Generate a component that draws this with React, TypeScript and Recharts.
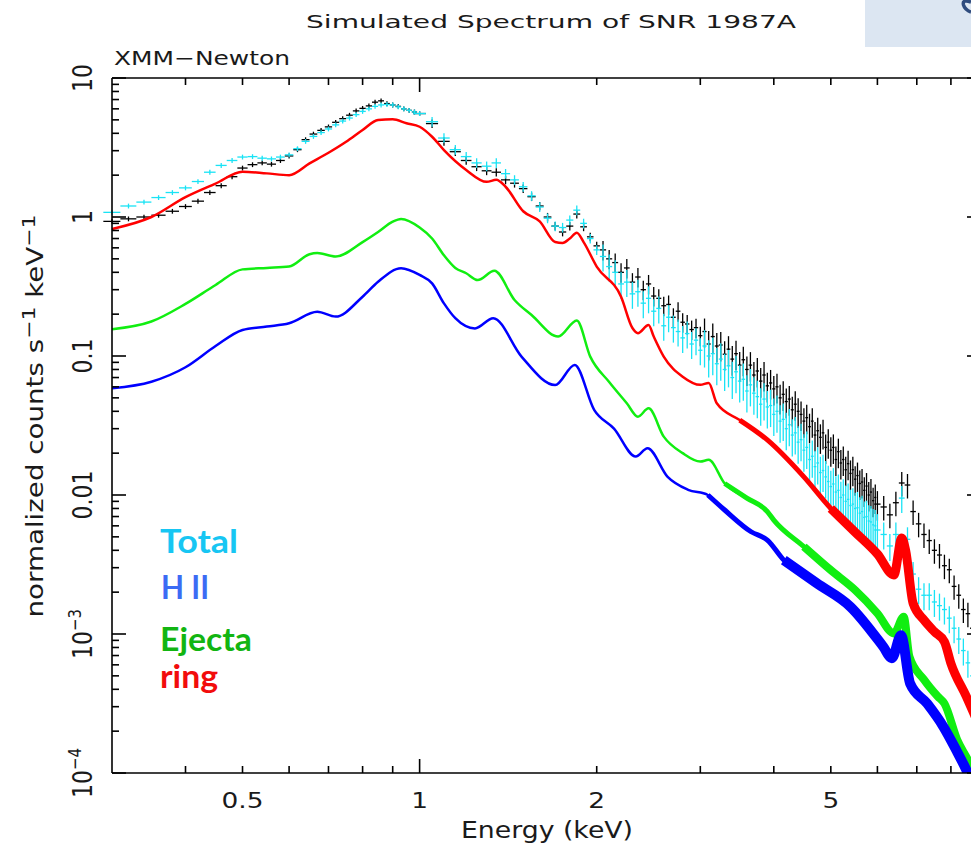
import React from 'react';
import { ComposedChart, Line, Scatter, XAxis, YAxis, ErrorBar, ReferenceLine } from 'recharts';

// plot frame in page pixels (right edge falls just outside the 971px crop)
const CHART_W = 990;
const CHART_H = 852;
const LEFT = 112;
const TOP = 78;
const RIGHT = 981;
const BOTTOM = 773;

const X_TICKS = [0.4, 0.5, 0.6, 0.7, 0.8, 0.9, 1, 2, 3, 4, 5, 6, 7, 8];
const X_LABEL_VALUES = [0.5, 1, 2, 5];
const X_LABEL_TEXT = ['0.5', '1', '2', '5'];

const Y_TICKS = [
  0.0001, 0.0002, 0.0003, 0.0004, 0.0005, 0.0006, 0.0007, 0.0008, 0.0009,
  0.001, 0.002, 0.003, 0.004, 0.005, 0.006, 0.007, 0.008, 0.009,
  0.01, 0.02, 0.03, 0.04, 0.05, 0.06, 0.07, 0.08, 0.09,
  0.1, 0.2, 0.3, 0.4, 0.5, 0.6, 0.7, 0.8, 0.9,
  1, 2, 3, 4, 5, 6, 7, 8, 9, 10,
];
const Y_LABEL_VALUES = [10, 1, 0.1, 0.01, 0.001, 0.0001];
const Y_LABEL_BASE = ['10', '1', '0.1', '0.01', '10', '10'];
const Y_LABEL_EXP = ['', '', '', '', '\u22123', '\u22124'];

// binned spectra (black = simulated data, cyan = total)
const BIN_E = [
  0.30, 0.32, 0.34, 0.36, 0.38, 0.40, 0.42, 0.44, 0.46, 0.48, 0.50, 0.52, 0.54, 0.56, 0.58, 0.60, 0.62, 0.64,
  0.66, 0.68, 0.70, 0.72, 0.74, 0.76, 0.78, 0.80, 0.82, 0.84, 0.86, 0.88, 0.90, 0.92, 0.94, 0.96, 0.98, 1.00,
  1.05, 1.10, 1.15, 1.20, 1.25, 1.30, 1.35, 1.40, 1.45, 1.50, 1.55, 1.60, 1.65, 1.70, 1.75, 1.80, 1.85, 1.90, 1.95, 2.00,
  2.05, 2.10, 2.15, 2.20, 2.25, 2.30, 2.35, 2.40, 2.45, 2.50,
  2.55, 2.60, 2.65, 2.70, 2.75, 2.80, 2.85, 2.90, 2.95, 3.00,
  3.05, 3.10, 3.15, 3.20, 3.25, 3.30, 3.35, 3.40, 3.45, 3.50,
  3.55, 3.60, 3.65, 3.70, 3.75, 3.80, 3.85, 3.90, 3.95, 4.00,
  4.05, 4.10, 4.15, 4.20, 4.25, 4.30, 4.35, 4.40, 4.45, 4.50,
  4.55, 4.60, 4.65, 4.70, 4.75, 4.80, 4.85, 4.90, 4.95, 5.00,
  5.05, 5.10, 5.15, 5.20, 5.25, 5.30, 5.35, 5.40, 5.45, 5.50,
  5.55, 5.60, 5.65, 5.70, 5.75, 5.80, 5.85, 5.90, 5.95, 6.00,
  6.15, 6.30, 6.45, 6.60, 6.75, 6.90, 7.05, 7.20, 7.35, 7.50, 7.65, 7.80, 7.95, 8.10, 8.25, 8.40, 8.55, 8.70, 8.85,
];
const DATA_V = [
  0.93, 0.97, 1.00, 1.03, 1.10, 1.19, 1.30, 1.50, 1.68, 1.95, 2.25, 2.38, 2.45, 2.40, 2.55, 2.75, 3.05, 3.60,
  3.95, 4.20, 4.45, 4.80, 5.10, 5.40, 5.80, 6.05, 6.30, 6.70, 6.85, 6.55, 6.40, 6.25, 6.00, 5.85, 5.70, 5.55,
  4.70, 3.50, 2.95, 2.55, 2.30, 2.15, 2.10, 1.85, 1.75, 1.60, 1.40, 1.20, 1.00, 0.86, 0.78, 0.86, 1.05, 0.85, 0.72, 0.62,
  0.58, 0.50, 0.47, 0.40, 0.43, 0.34, 0.37, 0.30, 0.33, 0.27,
  0.26, 0.23, 0.235, 0.19, 0.21, 0.175, 0.17, 0.155, 0.16, 0.14,
  0.15, 0.122, 0.138, 0.118, 0.12, 0.103, 0.112, 0.095, 0.104, 0.086,
  0.094, 0.080, 0.086, 0.073, 0.078, 0.066, 0.073, 0.061, 0.064, 0.058,
  0.060, 0.050, 0.053, 0.047, 0.049, 0.041, 0.045, 0.040, 0.038, 0.034,
  0.036, 0.031, 0.034, 0.027, 0.029, 0.026, 0.028, 0.022, 0.024, 0.021,
  0.022, 0.018, 0.0205, 0.017, 0.018, 0.0152, 0.0168, 0.0143, 0.0152, 0.0130,
  0.0138, 0.0121, 0.0124, 0.0108, 0.0116, 0.0100, 0.0105, 0.0091, 0.0096, 0.0086,
  0.0082, 0.0072, 0.0088, 0.0122, 0.0118, 0.0076, 0.0062, 0.0052, 0.0047, 0.0040, 0.0037, 0.0031, 0.0029, 0.0022, 0.0019, 0.0015, 0.0014, 0.0011, 0.0009,
];
const TOTAL_V = [
  1.08, 1.20, 1.28, 1.38, 1.50, 1.62, 1.80, 2.10, 2.35, 2.55, 2.70, 2.72, 2.65, 2.62, 2.70, 2.80, 3.10, 3.50,
  3.80, 4.05, 4.30, 4.60, 4.90, 5.15, 5.45, 5.75, 6.00, 6.25, 6.40, 6.45, 6.40, 6.20, 6.00, 5.85, 5.70, 5.55,
  4.85, 3.70, 3.05, 2.72, 2.45, 2.32, 2.45, 2.05, 1.85, 1.65, 1.42, 1.18, 0.98, 0.86, 0.84, 0.95, 1.12, 0.90, 0.70, 0.58,
  0.52, 0.44, 0.40, 0.33, 0.34, 0.28, 0.29, 0.24, 0.26, 0.21,
  0.22, 0.165, 0.19, 0.16, 0.15, 0.135, 0.145, 0.122, 0.13, 0.11,
  0.118, 0.10, 0.104, 0.088, 0.095, 0.080, 0.085, 0.070, 0.077, 0.066,
  0.068, 0.056, 0.062, 0.054, 0.051, 0.045, 0.049, 0.043, 0.044, 0.038,
  0.040, 0.034, 0.035, 0.030, 0.032, 0.027, 0.028, 0.024, 0.025, 0.021,
  0.022, 0.018, 0.019, 0.016, 0.017, 0.0145, 0.015, 0.0135, 0.0125, 0.0115,
  0.0120, 0.0105, 0.0108, 0.0096, 0.0100, 0.0090, 0.0093, 0.0084, 0.0086, 0.0080,
  0.0081, 0.0074, 0.0076, 0.0069, 0.0070, 0.0065, 0.0064, 0.0061, 0.0060, 0.0056,
  0.0052, 0.0043, 0.0052, 0.0095, 0.0048, 0.0027, 0.0021, 0.0019, 0.0019, 0.0017, 0.0016, 0.0015, 0.0013, 0.0011, 0.00092, 0.00076, 0.00062, 0.00050, 0.00042,
];
// relative 1-sigma errors by energy band (band upper edges in keV)
const ERR_EDGES = [1.0, 2.0, 3.0, 6.0, 9.0];
const DATA_ERR = [0.04, 0.07, 0.16, 0.24, 0.2];
const TOTAL_ERR = [0.04, 0.08, 0.22, 0.3, 0.22];

// model components
const RING_E = [0.30, 0.35, 0.40, 0.45, 0.50, 0.55, 0.60, 0.65, 0.70, 0.75, 0.80, 0.85, 0.90, 0.95, 1.00, 1.05, 1.10, 1.20, 1.30, 1.35, 1.40, 1.50, 1.60, 1.70, 1.75, 1.80, 1.85, 1.90, 2.00, 2.20, 2.30, 2.35, 2.45, 2.50, 2.60, 2.80, 3.00, 3.10, 3.20, 3.50, 3.90, 4.50, 5.00, 5.50, 6.00, 6.40, 6.60, 6.70, 6.90, 7.20, 7.50, 7.80, 8.00, 8.50, 9.00];
const RING_V = [0.82, 1.00, 1.39, 1.74, 2.12, 2.06, 2.00, 2.43, 2.90, 3.48, 4.23, 4.99, 5.05, 4.72, 4.46, 3.78, 3.03, 2.18, 1.79, 1.85, 1.65, 1.10, 0.93, 0.66, 0.65, 0.70, 0.77, 0.66, 0.44, 0.267, 0.159, 0.146, 0.167, 0.138, 0.099, 0.071, 0.062, 0.064, 0.0457, 0.0346, 0.0249, 0.0135, 0.0080, 0.0054, 0.00376, 0.00266, 0.0049, 0.0040, 0.00166, 0.00126, 0.00104, 0.00088, 0.000615, 0.000354, 0.000204];

const EJECTA_E = [0.30, 0.35, 0.40, 0.45, 0.50, 0.55, 0.60, 0.65, 0.67, 0.72, 0.80, 0.85, 0.90, 0.93, 1.00, 1.05, 1.10, 1.15, 1.20, 1.255, 1.34, 1.45, 1.55, 1.72, 1.85, 1.95, 2.10, 2.25, 2.35, 2.45, 2.60, 2.80, 3.00, 3.10, 3.30, 3.60, 3.90, 4.00, 4.50, 5.00, 5.50, 6.00, 6.40, 6.65, 6.80, 7.20, 7.60, 7.80, 8.20, 8.60, 9.00];
const EJECTA_V = [0.156, 0.177, 0.237, 0.324, 0.42, 0.43, 0.44, 0.54, 0.55, 0.52, 0.66, 0.78, 0.925, 0.967, 0.84, 0.70, 0.53, 0.43, 0.394, 0.352, 0.41, 0.253, 0.197, 0.138, 0.18, 0.099, 0.065, 0.0457, 0.0366, 0.042, 0.0263, 0.020, 0.0174, 0.0179, 0.0121, 0.0095, 0.0076, 0.0066, 0.00425, 0.00288, 0.00207, 0.00141, 0.00101, 0.00133, 0.00069, 0.00047, 0.000355, 0.000316, 0.000173, 0.000118, 0.00007];

const HII_E = [0.30, 0.35, 0.40, 0.45, 0.50, 0.55, 0.60, 0.67, 0.72, 0.80, 0.85, 0.93, 1.00, 1.05, 1.10, 1.15, 1.242, 1.334, 1.49, 1.70, 1.835, 1.98, 2.14, 2.33, 2.44, 2.64, 2.86, 3.09, 3.30, 3.66, 3.90, 4.16, 4.73, 5.40, 6.14, 6.35, 6.58, 6.82, 7.29, 7.77, 8.17, 8.50, 9.00];
const HII_V = [0.0586, 0.0653, 0.083, 0.118, 0.154, 0.163, 0.172, 0.208, 0.192, 0.267, 0.342, 0.428, 0.383, 0.333, 0.239, 0.187, 0.158, 0.187, 0.099, 0.0618, 0.0862, 0.041, 0.030, 0.0189, 0.0217, 0.0135, 0.0109, 0.0100, 0.0078, 0.00544, 0.00474, 0.0034, 0.00232, 0.00157, 0.00081, 0.00067, 0.00098, 0.00044, 0.000316, 0.000215, 0.000146, 0.000105, 0.00006];

const pgFont = { fontFamily: "'DejaVu Sans', 'Liberation Sans', sans-serif", fontWeight: 400, fill: '#1a1a1a' };

const errFrac = (e: number, fracs: number[]) => {
  const i = ERR_EDGES.findIndex((edge) => e <= edge + 1e-9);
  return fracs[i < 0 ? fracs.length - 1 : i];
};

// bins: half-width taken from the spacing to the next bin
const binned = (vals: number[], fracs: number[]) =>
  BIN_E.map((e, i) => {
    const next = i < BIN_E.length - 1 ? BIN_E[i + 1] : e + (e - BIN_E[i - 1]);
    return { e, v: vals[i], ye: vals[i] * errFrac(e, fracs), xe: (next - e) / 2 };
  });

const curve = (es: number[], vs: number[]) => es.map((e, i) => ({ e, v: vs[i] }));

const dataPts = binned(DATA_V, DATA_ERR);
const totalPts = binned(TOTAL_V, TOTAL_ERR);
const ring = curve(RING_E, RING_V);
const ejecta = curve(EJECTA_E, EJECTA_V);
const hii = curve(HII_E, HII_V);

const isDecade = (v: number) => {
  const l = Math.log10(v);
  return Math.abs(l - Math.round(l)) < 1e-6;
};

const XTick = (props: any) => {
  const { x, payload } = props;
  const v = payload.value;
  const len = v === 1 ? 14 : 7;
  const i = X_LABEL_VALUES.indexOf(v);
  return (
    <g>
      <line x1={x} x2={x} y1={BOTTOM} y2={BOTTOM - len} stroke="#000" strokeWidth={1.6} />
      <line x1={x} x2={x} y1={TOP} y2={TOP + len} stroke="#000" strokeWidth={1.6} />
      {i >= 0 && (
        <text transform={`translate(${x} 808) scale(1.2 1)`} textAnchor="middle" fontSize={22} style={pgFont}>
          {X_LABEL_TEXT[i]}
        </text>
      )}
    </g>
  );
};

const YTick = (props: any) => {
  const { y, payload } = props;
  const v = payload.value;
  const len = isDecade(v) ? 14 : 7;
  const i = Y_LABEL_VALUES.findIndex((d) => Math.abs(v / d - 1) < 1e-6);
  return (
    <g>
      <line x1={LEFT} x2={LEFT + len} y1={y} y2={y} stroke="#000" strokeWidth={1.6} />
      <line x1={RIGHT - len} x2={RIGHT} y1={y} y2={y} stroke="#000" strokeWidth={1.6} />
      {i >= 0 && (
        <text transform={`translate(92 ${y}) scale(1.2 1) rotate(-90)`} textAnchor="middle" fontSize={22} style={pgFont}>
          {Y_LABEL_BASE[i]}
          {Y_LABEL_EXP[i] && (
            <tspan dy={-9} fontSize={15}>
              {Y_LABEL_EXP[i]}
            </tspan>
          )}
        </text>
      )}
    </g>
  );
};

const noMark = () => <g />;

export default function App() {
  return (
    <div style={{ position: 'absolute', left: 0, top: 0, width: 971, height: 852, overflow: 'hidden', background: '#fff' }}>
      <ComposedChart width={CHART_W} height={CHART_H} margin={{ top: TOP, right: CHART_W - RIGHT, bottom: 0, left: 0 }}>
        <XAxis
          dataKey="e"
          type="number"
          scale="log"
          domain={[0.3, 9]}
          allowDataOverflow
          ticks={X_TICKS}
          interval={0}
          tick={(p: any) => <XTick {...p} />}
          tickLine={false}
          axisLine={{ stroke: '#000', strokeWidth: 1.6 }}
          height={CHART_H - BOTTOM}
        />
        <YAxis
          dataKey="v"
          type="number"
          scale="log"
          domain={[0.0001, 10]}
          allowDataOverflow
          ticks={Y_TICKS}
          interval={0}
          tick={(p: any) => <YTick {...p} />}
          tickLine={false}
          axisLine={{ stroke: '#000', strokeWidth: 1.6 }}
          width={LEFT}
        />
        <ReferenceLine y={10} stroke="#000" strokeWidth={1.6} />
        <ReferenceLine x={9} stroke="#000" strokeWidth={1.6} />

        <Scatter data={dataPts} dataKey="v" fill="#000" shape={noMark} isAnimationActive={false}>
          <ErrorBar dataKey="ye" direction="y" width={0} stroke="#000" strokeWidth={1.3} isAnimationActive={false} />
          <ErrorBar dataKey="xe" direction="x" width={0} stroke="#000" strokeWidth={1.3} isAnimationActive={false} />
        </Scatter>
        <Scatter data={totalPts} dataKey="v" fill="#19E3F5" shape={noMark} isAnimationActive={false}>
          <ErrorBar dataKey="ye" direction="y" width={0} stroke="#19E3F5" strokeWidth={1.3} isAnimationActive={false} />
          <ErrorBar dataKey="xe" direction="x" width={0} stroke="#19E3F5" strokeWidth={1.3} isAnimationActive={false} />
        </Scatter>

        <Line data={ring} dataKey="v" type="monotone" stroke="#FF0000" strokeWidth={2.5} dot={false} activeDot={false} isAnimationActive={false} />
        <Line data={ring.filter((d) => d.e >= 3.5)} dataKey="v" type="monotone" stroke="#FF0000" strokeWidth={5} dot={false} activeDot={false} isAnimationActive={false} />
        <Line data={ring.filter((d) => d.e >= 5)} dataKey="v" type="monotone" stroke="#FF0000" strokeWidth={9} dot={false} activeDot={false} isAnimationActive={false} />

        <Line data={ejecta} dataKey="v" type="monotone" stroke="#11EE11" strokeWidth={2.5} dot={false} activeDot={false} isAnimationActive={false} />
        <Line data={ejecta.filter((d) => d.e >= 3.3)} dataKey="v" type="monotone" stroke="#11EE11" strokeWidth={5} dot={false} activeDot={false} isAnimationActive={false} />
        <Line data={ejecta.filter((d) => d.e >= 4.5)} dataKey="v" type="monotone" stroke="#11EE11" strokeWidth={8} dot={false} activeDot={false} isAnimationActive={false} />

        <Line data={hii} dataKey="v" type="monotone" stroke="#0000FF" strokeWidth={2.5} dot={false} activeDot={false} isAnimationActive={false} />
        <Line data={hii.filter((d) => d.e >= 3.09)} dataKey="v" type="monotone" stroke="#0000FF" strokeWidth={5} dot={false} activeDot={false} isAnimationActive={false} />
        <Line data={hii.filter((d) => d.e >= 4.16)} dataKey="v" type="monotone" stroke="#0000FF" strokeWidth={10} dot={false} activeDot={false} isAnimationActive={false} />
      </ComposedChart>

      <svg width={971} height={852} style={{ position: 'absolute', left: 0, top: 0, pointerEvents: 'none' }}>
        <rect x={865} y={0} width={106} height={47} fill="#DCE6F2" />
        <path d="M971 2 Q962 -1 963.5 5 Q965 10 971 12" fill="none" stroke="#2E4B7E" strokeWidth={3.5} />
        <text x={306} y={28} fontSize={18} textLength={490} lengthAdjust="spacingAndGlyphs" style={pgFont}>
          Simulated Spectrum of SNR 1987A
        </text>
        <text x={114} y={65} fontSize={20} textLength={176} lengthAdjust="spacingAndGlyphs" style={pgFont}>
          XMM{'\u2212'}Newton
        </text>
        <text x={461} y={838} fontSize={23} textLength={172} lengthAdjust="spacingAndGlyphs" style={pgFont}>
          Energy (keV)
        </text>
        <text
          transform="translate(43 416) scale(1.2 1) rotate(-90)"
          textAnchor="middle"
          fontSize={19}
          textLength={403}
          lengthAdjust="spacingAndGlyphs"
          style={pgFont}
        >
          normalized counts s
          <tspan dy={-7} fontSize={15}>
            {'\u22121'}
          </tspan>
          <tspan dy={7}>{'  keV'}</tspan>
          <tspan dy={-7} fontSize={15}>
            {'\u22121'}
          </tspan>
        </text>

        <g fontFamily="Lato, 'Noto Sans', sans-serif" fontWeight={700} fontSize={32}>
          <text x={160} y={553} fill="#17C6F3" textLength={78} lengthAdjust="spacingAndGlyphs">Total</text>
          <text x={161} y={599} fill="#3B6BF4" textLength={48} lengthAdjust="spacingAndGlyphs">H II</text>
          <text x={160} y={651} fill="#12B512" textLength={92} lengthAdjust="spacingAndGlyphs">Ejecta</text>
          <text x={160} y={688} fill="#F20C0C" textLength={58} lengthAdjust="spacingAndGlyphs">ring</text>
        </g>
      </svg>
    </div>
  );
}
